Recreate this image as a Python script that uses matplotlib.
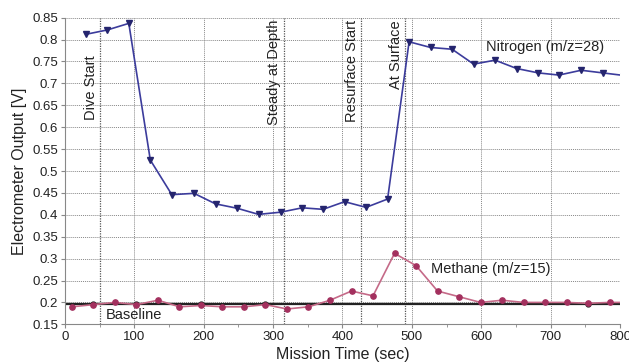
import matplotlib
matplotlib.use("Agg")
import matplotlib.pyplot as plt
from matplotlib.ticker import MultipleLocator, FuncFormatter

plt.rcParams['font.family'] = ['Liberation Sans', 'DejaVu Sans']

# Nitrogen (m/z=28)
n2_time = [30, 61, 92, 123, 154, 186, 217, 248, 279, 311, 342, 372, 403, 434, 465,
           496, 527, 558, 589, 620, 651, 682, 712, 744, 775, 806]
n2_volt = [0.812, 0.822, 0.837, 0.525, 0.446, 0.449, 0.425, 0.415, 0.401, 0.406, 0.416,
           0.4125, 0.430, 0.417, 0.436, 0.795, 0.782, 0.778, 0.744, 0.753, 0.734, 0.724,
           0.719, 0.730, 0.724, 0.718]

# Methane (m/z=15)
ch4_time = [10, 41, 72, 103, 134, 165, 196, 227, 258, 289, 320, 351, 382, 413, 444,
            475, 506, 537, 568, 599, 630, 661, 692, 723, 754, 785, 816]
ch4_volt = [0.190, 0.195, 0.200, 0.195, 0.205, 0.190, 0.193, 0.190, 0.190, 0.195, 0.185,
            0.190, 0.205, 0.226, 0.215, 0.312, 0.284, 0.226, 0.213, 0.200, 0.205, 0.200,
            0.200, 0.200, 0.198, 0.200, 0.200]

# Baseline
base_time = [41, 103, 196, 289, 754]
base_volt = [0.196, 0.196, 0.196, 0.196, 0.196]

# Events
event_time = [50, 315, 427, 490]
event_label = ["Dive Start", "Steady at Depth", "Resurface Start", "At Surface"]
event_top = [0.765, 0.845, 0.845, 0.845]

fig = plt.figure(figsize=(6.29, 3.64), dpi=100)
ax = fig.add_axes([0.1033, 0.109, 0.8824, 0.8424])

ax.set_xlim(0, 800)
ax.set_ylim(0.15, 0.85)
ax.xaxis.set_major_locator(MultipleLocator(100))
ax.xaxis.set_minor_locator(MultipleLocator(50))
ax.yaxis.set_major_locator(MultipleLocator(0.05))
ax.yaxis.set_major_formatter(FuncFormatter(lambda v, p: ('%.2f' % v).rstrip('0').rstrip('.')))
ax.grid(True, which='major', color='#888888', linestyle=(0, (1, 1)), linewidth=0.7)
for s in ['top', 'right']:
    ax.spines[s].set_visible(False)
for s in ['left', 'bottom']:
    ax.spines[s].set_color('#888888')
ax.tick_params(axis='both', which='major', direction='out', length=3, color='#888888',
               labelsize=9.5, pad=2, labelcolor='#222222')
ax.tick_params(axis='x', which='minor', direction='out', length=2, color='#888888')

for t, lab, top in zip(event_time, event_label, event_top):
    ax.axvline(t, color='#555555', linestyle=(0, (1, 1)), linewidth=0.9)
    ax.text(t - 3, top, lab, rotation=90, ha='right', va='top', fontsize=10.5, color='#222222')

ax.axhline(0.196, color='#222222', linewidth=1.6, zorder=2)
ax.plot(base_time, base_volt, linestyle='none', marker='o', markersize=3.5,
        color='#222222', zorder=3)
ax.plot(ch4_time, ch4_volt, color='#c56a88', linewidth=1.2, marker='o', markersize=3.8,
        markerfacecolor='#a3305e', markeredgecolor='#a3305e', zorder=4, clip_on=True)
ax.plot(n2_time, n2_volt, color='#3c3c9c', linewidth=1.2, marker='v', markersize=5,
        markerfacecolor='#25256e', markeredgecolor='#25256e', zorder=5, clip_on=True)

ax.text(607, 0.784, "Nitrogen (m/z=28)", fontsize=10.5, va='center', color='#222222')
ax.text(528, 0.2756, "Methane (m/z=15)", fontsize=10.5, va='center', color='#222222')
ax.text(59, 0.171, "Baseline", fontsize=10.5, va='center', color='#222222')

ax.set_xlabel("Mission Time (sec)", fontsize=11.5, labelpad=3, color='#222222')
ax.set_ylabel("Electrometer Output [V]", fontsize=11.5, labelpad=4, color='#222222')

fig.savefig("out.png", dpi=100)
